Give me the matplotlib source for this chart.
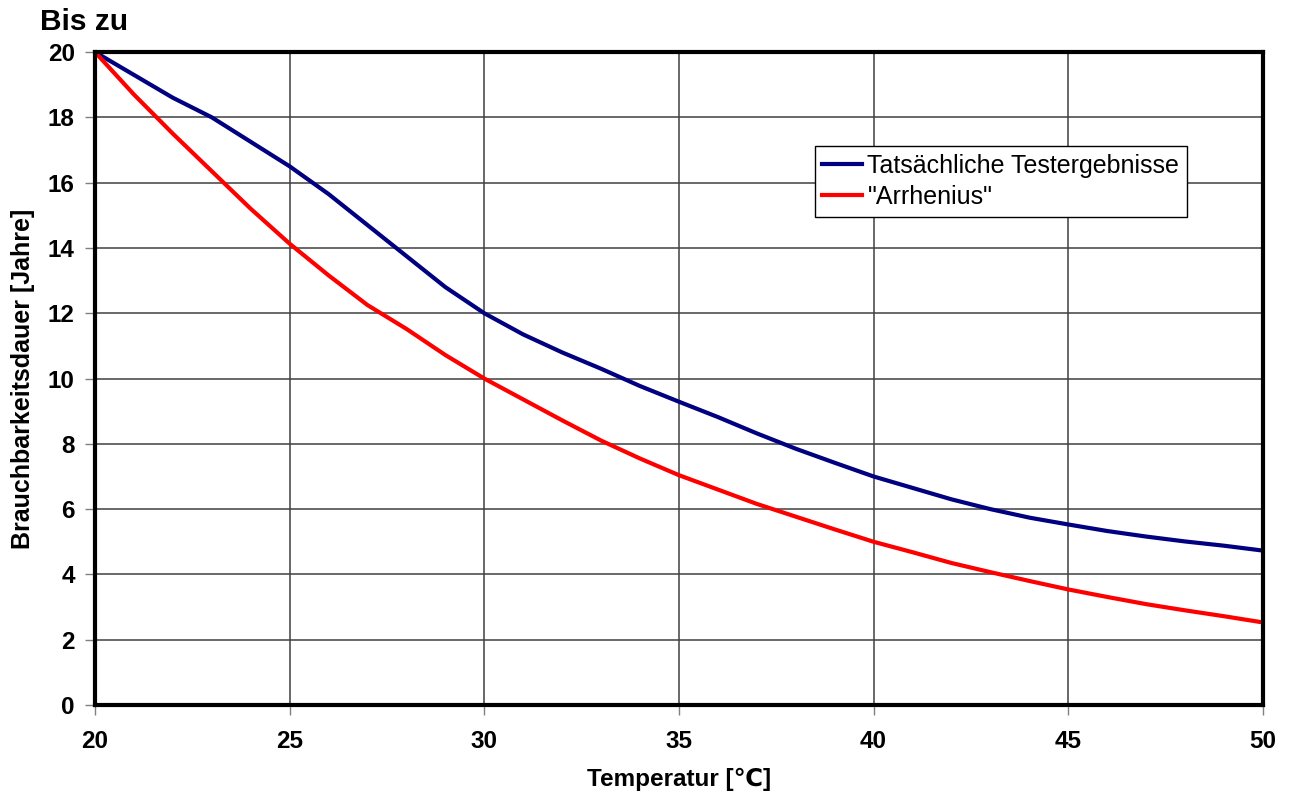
import matplotlib
matplotlib.use("Agg")
from matplotlib import pyplot as plt

plt.rcParams['font.family'] = ['Liberation Sans', 'DejaVu Sans']

temperatur = [20, 21, 22, 23, 24, 25, 26, 27, 28, 29, 30,
              31, 32, 33, 34, 35, 36, 37, 38, 39, 40,
              41, 42, 43, 44, 45, 46, 47, 48, 49, 50]

tatsaechlich = [20.0, 19.3, 18.6, 18.0, 17.25, 16.5, 15.65, 14.7, 13.75, 12.8, 12.0,
                11.35, 10.8, 10.3, 9.77, 9.29, 8.82, 8.32, 7.85, 7.42, 7.0,
                6.65, 6.3, 6.0, 5.74, 5.53, 5.33, 5.16, 5.01, 4.88, 4.73]

arrhenius = [20.0, 18.7, 17.5, 16.35, 15.2, 14.13, 13.16, 12.25, 11.52, 10.72, 10.0,
             9.36, 8.72, 8.1, 7.55, 7.04, 6.6, 6.16, 5.77, 5.38, 5.0,
             4.68, 4.35, 4.07, 3.8, 3.54, 3.31, 3.09, 2.9, 2.72, 2.53]

legende = ['Tatsächliche Testergebnisse', '"Arrhenius"']
x_ticks = [20, 25, 30, 35, 40, 45, 50]
y_ticks = [0, 2, 4, 6, 8, 10, 12, 14, 16, 18, 20]

fig = plt.figure(figsize=(12.92, 7.98), dpi=100)
ax = fig.add_axes([0.0735, 0.1165, 0.904, 0.8183])

ax.plot(temperatur, tatsaechlich, color='#000080', linewidth=3, label=legende[0])
ax.plot(temperatur, arrhenius, color='#ff0000', linewidth=3, label=legende[1])

ax.set_xlim(20, 50)
ax.set_ylim(0, 20)
ax.set_xticks(x_ticks)
ax.set_yticks(y_ticks)
ax.grid(True, color='#404040', linewidth=1.1)
ax.set_axisbelow(True)

for s in ax.spines.values():
    s.set_linewidth(3)
    s.set_color('black')

ax.tick_params(direction='out', length=7, width=1, color='#808080',
               labelsize=17.5)
for lab in ax.get_xticklabels() + ax.get_yticklabels():
    lab.set_fontweight('bold')
ax.tick_params(axis='x', pad=11)
ax.tick_params(axis='y', pad=7.5)

ax.set_xlabel('Temperatur [℃]', fontsize=17.5, fontweight='bold', labelpad=11)
ax.set_ylabel('Brauchbarkeitsdauer [Jahre]', fontsize=18, fontweight='bold', labelpad=9)
fig.text(40 / 1292, 1 - 22 / 798, 'Bis zu', fontsize=21.5, fontweight='bold',
         ha='left', va='center')

leg = ax.legend(loc='upper left', bbox_to_anchor=(0.6164, 0.856), borderaxespad=0,
                fontsize=18, frameon=True, fancybox=False, handlelength=1.6,
                handletextpad=0.2, borderpad=0.3, labelspacing=0.3)
leg.get_frame().set_edgecolor('black')
leg.get_frame().set_linewidth(1)
leg.get_frame().set_alpha(1)

fig.savefig('out.png', dpi=100)
